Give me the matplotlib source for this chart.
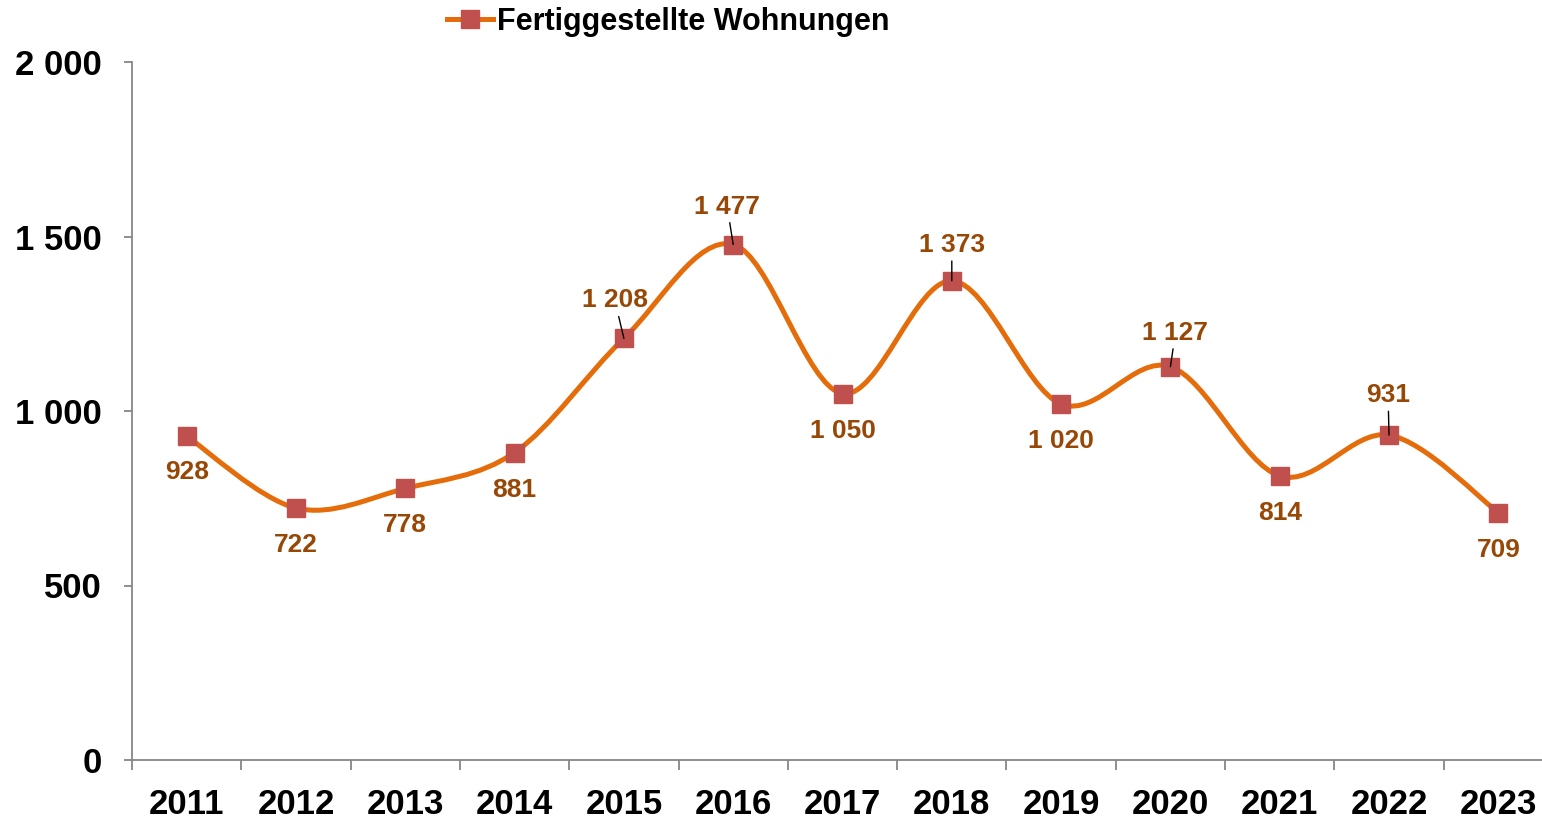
import numpy as np
import matplotlib.pyplot as plt
from matplotlib.path import Path
from matplotlib.patches import PathPatch
from matplotlib.lines import Line2D

plt.rcParams['font.family'] = ['Liberation Sans', 'DejaVu Sans']
plt.rcParams['font.weight'] = 'bold'

# data
years = ['2011', '2012', '2013', '2014', '2015', '2016', '2017',
         '2018', '2019', '2020', '2021', '2022', '2023']
wohnungen = [928, 722, 778, 881, 1208, 1477, 1050, 1373, 1020, 1127, 814, 931, 709]
labels = ['928', '722', '778', '881', '1 208', '1 477', '1 050',
          '1 373', '1 020', '1 127', '814', '931', '709']
# label offsets in pixels (dx, dy) and whether a leader line is drawn
label_pos = [(0, -36), (0, -37), (0, -37), (0, -37), (-9, 38), (-6, 38), (0, -37),
             (0, 36), (0, -37), (5, 34), (0, -37), (-1, 40), (0, -37)]
leader = [False, False, False, False, True, True, False, True, False, True, False, True, False]

line_col = '#E46C0A'
marker_col = '#C0504D'
label_col = '#974806'
axis_col = '#868686'

fig = plt.figure(figsize=(15.42, 8.19), dpi=100)
ax = fig.add_axes([132 / 1542, 59 / 819, 1421 / 1542, 698 / 819])

x = np.arange(len(years))
y = np.array(wohnungen, dtype=float)

# smoothed line (Excel style cubic bezier through the points)
pts = np.column_stack([x, y])
verts = [tuple(pts[0])]
codes = [Path.MOVETO]
for i in range(len(pts) - 1):
    p0 = pts[max(i - 1, 0)]
    p1 = pts[i]
    p2 = pts[i + 1]
    p3 = pts[min(i + 2, len(pts) - 1)]
    c1 = p1 + (p2 - p0) / 6
    c2 = p2 - (p3 - p1) / 6
    verts += [tuple(c1), tuple(c2), tuple(p2)]
    codes += [Path.CURVE4] * 3
ax.add_patch(PathPatch(Path(verts, codes), facecolor='none', edgecolor=line_col,
                       lw=3.6, capstyle='round', joinstyle='round', zorder=2))
ax.plot(x, y, linestyle='none', marker='s', markersize=12.5, color=marker_col,
        markeredgecolor=marker_col, zorder=3)

for xi, yi, lab, (dx, dy), ld in zip(x, y, labels, label_pos, leader):
    if ld:
        ax.annotate(lab, (xi, yi), xytext=(dx, dy), textcoords='offset pixels',
                    ha='center', va='center', fontsize=19, fontweight='bold', color=label_col,
                    arrowprops=dict(arrowstyle='-', color='black', lw=1, shrinkA=1, shrinkB=0),
                    zorder=4)
    else:
        ax.annotate(lab, (xi, yi), xytext=(dx, dy), textcoords='offset pixels',
                    ha='center', va='center', fontsize=19, fontweight='bold', color=label_col,
                    zorder=4)

ax.set_xlim(-0.5, len(years) - 0.5)
ax.set_ylim(0, 2000)
ax.set_yticks([0, 500, 1000, 1500, 2000])
ax.set_yticklabels(['0', '500', '1 000', '1 500', '2 000'])
ax.set_xticks(x)
ax.set_xticklabels(years)
ax.set_xticks(np.arange(-0.5, len(years), 1), minor=True)

for s in ['top', 'right']:
    ax.spines[s].set_visible(False)
for s in ['left', 'bottom']:
    ax.spines[s].set_color(axis_col)
    ax.spines[s].set_linewidth(1.3)

ax.tick_params(axis='y', length=6, width=1.3, color=axis_col, pad=16, labelsize=25)
ax.tick_params(axis='x', which='major', length=0, pad=20, labelsize=25)
ax.tick_params(axis='x', which='minor', length=7, width=1.3, color=axis_col)
for t in ax.get_xticklabels() + ax.get_yticklabels():
    t.set_fontweight('bold')

handle = Line2D([], [], color=line_col, lw=3.6, marker='s', markersize=12.5,
                markerfacecolor=marker_col, markeredgecolor=marker_col)
fig.legend([handle], ['Fertiggestellte Wohnungen'], loc='center left',
           bbox_to_anchor=(447 / 1542, 1 - 22 / 819), frameon=False, borderpad=0,
           borderaxespad=0, handlelength=1.5, handletextpad=0.15,
           prop=dict(size=22, weight='bold'))

fig.savefig('out.png', dpi=100)
